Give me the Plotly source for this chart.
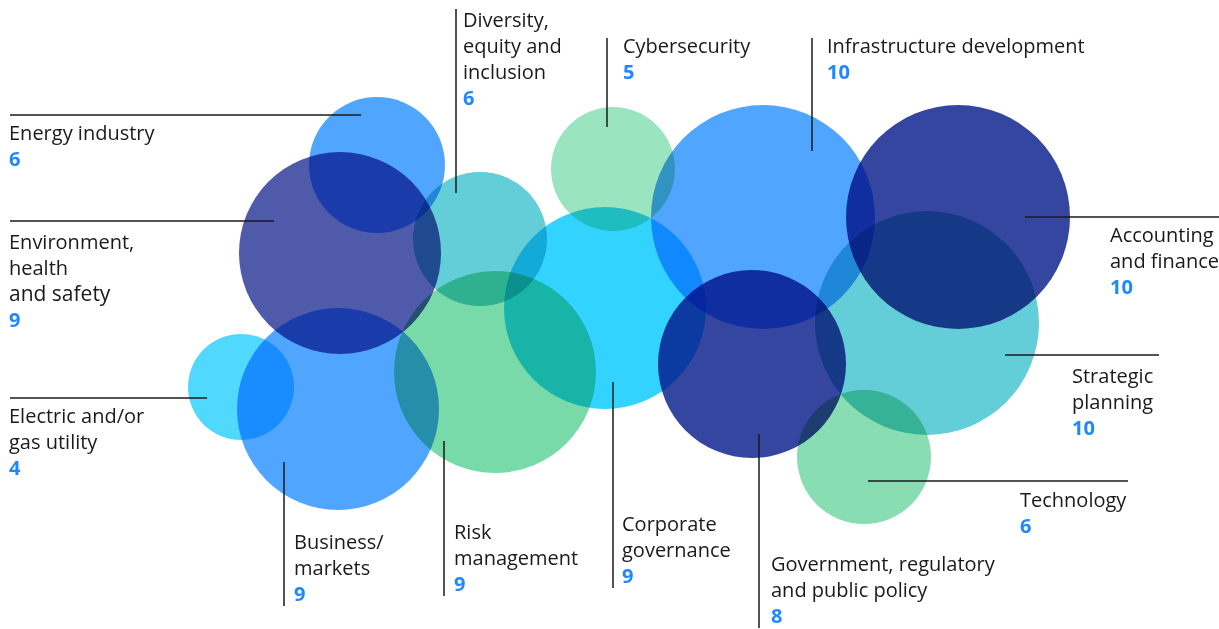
import plotly.graph_objects as go

# data
categories = ["Energy industry", "Environment, health and safety", "Diversity, equity and inclusion",
              "Cybersecurity", "Infrastructure development", "Accounting and finance",
              "Strategic planning", "Corporate governance", "Risk management", "Business/markets",
              "Electric and/or gas utility", "Government, regulatory and public policy", "Technology"]
values = [6, 9, 6, 5, 10, 10, 10, 9, 9, 9, 4, 8, 6]
label_lines = ["Energy industry", "Environment,<br>health<br><span style='font-size:21px'>and safety</span>",
               "Diversity,<br>equity and<br>inclusion", "Cybersecurity", "Infrastructure development",
               "Accounting<br>and finance", "Strategic<br>planning", "Corporate<br>governance",
               "Risk<br>management", "Business/<br>markets", "Electric and/or<br>gas utility",
               "Government, regulatory<br>and public policy", "Technology"]

# layout of the bubble cluster (pixel space)
bubble_x = [377, 340, 480, 613, 763, 958, 927, 605, 495, 338, 241, 752, 864]
bubble_y = [165, 253, 239, 169, 217, 217, 323, 308, 372, 409, 387, 364, 457]
bubble_r = [68, 101, 67, 62, 112, 112, 112, 101, 101, 101, 53, 94, 67]
bubble_colors = ["#50A6FF", "#4F5BAA", "#64CED8", "#9BE4C0", "#50A6FF", "#3546A0", "#64CED8",
                 "#33D3FF", "#78DAA8", "#50A6FF", "#50D8FF", "#3546A0", "#88DEB2"]

label_x = [7, 7, 461, 621, 825, 1108, 1070, 620, 452, 292, 7, 769, 1018]
label_y = [117, 226, 4, 30, 30, 219, 360, 508, 516, 526, 400, 548, 484]
leaders = [(10, 115, 361, 115), (10, 221, 274, 221), (456, 9, 456, 193), (607, 38, 607, 127),
           (812, 38, 812, 151), (1025, 217, 1219, 217), (1005, 355, 1159, 355),
           (613, 382, 613, 588), (444, 441, 444, 596), (284, 462, 284, 606),
           (10, 398, 207, 398), (759, 434, 759, 628), (868, 481, 1128, 481)]

num_color = "#1E88FF"

fig = go.Figure()
fig.add_trace(go.Scatter(
    x=bubble_x, y=bubble_y, mode="markers", text=categories, customdata=values,
    hovertemplate="%{text}: %{customdata}<extra></extra>", cliponaxis=False,
    marker=dict(size=[2 * r for r in bubble_r], sizemode="diameter", color=bubble_colors,
                opacity=1, line=dict(width=0)),
))

for (x0, y0, x1, y1) in leaders:
    fig.add_shape(type="line", x0=x0, y0=y0, x1=x1, y1=y1, xref="x", yref="y",
                  line=dict(color="#1a1a1a", width=1.5))

for lab, v, lx, ly in zip(label_lines, values, label_x, label_y):
    fig.add_annotation(x=lx, y=ly, xref="x", yref="y", xanchor="left", yanchor="top", align="left",
                       showarrow=False,
                       text=f"{lab}<br><b><span style='color:{num_color}'>{v}</span></b>",
                       font=dict(family="Open Sans", size=20, color="#1a1a1a"))

fig.update_xaxes(range=[0, 1219], visible=False, fixedrange=True)
fig.update_yaxes(range=[629, 0], visible=False, fixedrange=True)
fig.update_layout(width=1219, height=629, margin=dict(l=0, r=0, t=0, b=0),
                  plot_bgcolor="white", paper_bgcolor="white", showlegend=False)

# multiply blending for the overlapping bubbles, and no page margin
blend = ("document.body.style.margin='0';"
         "var s=document.createElement('style');"
         "s.innerHTML='.scatterlayer .point{mix-blend-mode:multiply}';"
         "document.head.appendChild(s);")
fig.write_html("out.html", post_script=blend, config={"displayModeBar": False})
